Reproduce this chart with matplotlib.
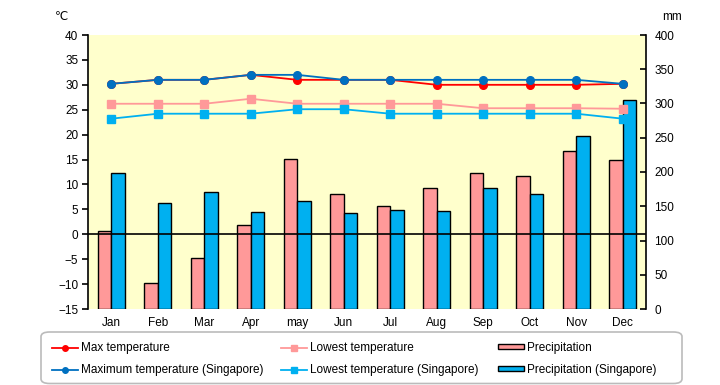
import matplotlib
matplotlib.use("Agg")
import matplotlib.pyplot as plt
import numpy as np
from matplotlib.lines import Line2D
from matplotlib.patches import FancyBboxPatch, Rectangle

months = ["Jan", "Feb", "Mar", "Apr", "may", "Jun", "Jul", "Aug", "Sep", "Oct", "Nov", "Dec"]
max_temp = [30.2, 31, 31, 32, 31, 31, 31, 30, 30, 30, 30, 30.2]
low_temp = [26.2, 26.2, 26.2, 27.2, 26.2, 26.2, 26.2, 26.2, 25.3, 25.3, 25.3, 25.2]
precip = [114, 38, 74, 122, 219, 168, 150, 176, 198, 194, 230, 217]
max_temp_sg = [30.2, 31, 31, 32, 32, 31, 31, 31, 31, 31, 31, 30.2]
low_temp_sg = [23.2, 24.2, 24.2, 24.2, 25.1, 25.1, 24.2, 24.2, 24.2, 24.2, 24.2, 23.2]
precip_sg = [198, 155, 171, 141, 157, 140, 144, 143, 176, 168, 252, 305]

labels = ["Max temperature", "Lowest temperature", "Precipitation",
          "Maximum temperature (Singapore)", "Lowest temperature (Singapore)",
          "Precipitation (Singapore)"]

RED = "#FF0000"
DBLUE = "#0070C0"
PINK = "#FF9999"
LBLUE = "#00B0F0"
BG = "#FFFFCC"

plt.rcParams['font.family'] = ['Liberation Sans', 'DejaVu Sans']
FS = 8.5
fig = plt.figure(figsize=(7.2, 3.85), dpi=100)
ax = fig.add_axes([88/720, 1-309/385, (646-88)/720, (309-35)/385])
ax2 = ax.twinx()

x = np.arange(len(months))
bw = 0.29
ax2.bar(x - bw/2, precip, bw, color=PINK, edgecolor="black", linewidth=1, zorder=2)
ax2.bar(x + bw/2, precip_sg, bw, color=LBLUE, edgecolor="black", linewidth=1, zorder=2)
ax2.set_ylim(0, 400)
ax2.set_yticks(range(0, 401, 50))

ax.set_zorder(ax2.get_zorder() + 1)
ax.patch.set_visible(False)
ax2.patch.set_visible(True)
ax2.patch.set_facecolor(BG)

ax.axhline(0, color="black", lw=1.2, zorder=1)
ax.plot(x, max_temp, color=RED, lw=1.3, marker="o", ms=5.5, zorder=3)
ax.plot(x, max_temp_sg, color=DBLUE, lw=1.3, marker="o", ms=5.5, zorder=4)
ax.plot(x, low_temp, color=PINK, lw=1.3, marker="s", ms=6, zorder=3)
ax.plot(x, low_temp_sg, color=LBLUE, lw=1.3, marker="s", ms=6, zorder=3)

ax.set_ylim(-15, 40)
ax.set_yticks(range(-15, 41, 5))
ax.set_yticklabels([str(v).replace("-", "\u2212") for v in range(-15, 41, 5)])
ax.set_xlim(-0.5, 11.5)
ax.set_xticks(x)
ax.set_xticklabels(months)

for a in (ax, ax2):
    a.spines['top'].set_visible(False)
    a.spines['bottom'].set_visible(False)
ax.spines['right'].set_visible(False)
ax2.spines['left'].set_visible(False)
ax.spines['left'].set_linewidth(1.2)
ax2.spines['right'].set_linewidth(1.2)
ax.tick_params(axis='y', direction='out', length=4, width=1.2, labelsize=FS, pad=3)
ax.tick_params(axis='x', length=0, labelsize=FS, pad=6)
ax2.tick_params(axis='y', direction='in', length=4, width=1.2, labelsize=FS, pad=6)

fig.text(62/720, 1-17/385, "\u2103", fontsize=FS, ha="center", va="center",
         family=['DejaVu Sans'])
fig.text(672/720, 1-17/385, "mm", fontsize=FS, ha="center", va="center")

# legend box
W, H = 720, 385
box = FancyBboxPatch((41/W, 1-383.5/H), (682-41)/W, (383.5-332)/H,
                     boxstyle="round,pad=0,rounding_size=0.012",
                     transform=fig.transFigure, facecolor="white",
                     edgecolor="#BBBBBB", lw=1.2, zorder=0)
fig.add_artist(box)

def line_handle(x0, y, color, marker, ms):
    fig.add_artist(Line2D([x0/W, (x0+26)/W], [1-y/H, 1-y/H], color=color, lw=1.3,
                          transform=fig.transFigure, zorder=5))
    fig.add_artist(Line2D([(x0+13)/W], [1-y/H], color=color, marker=marker, ms=ms,
                          lw=0, transform=fig.transFigure, zorder=6))

def bar_handle(x0, y, color):
    fig.add_artist(Rectangle((x0/W, (1-(y+2.5)/H)), 26/W, 5/H, facecolor=color,
                             edgecolor="black", lw=1, transform=fig.transFigure, zorder=5))

rows = [348, 370]
line_handle(52, rows[0], RED, "o", 4)
line_handle(52, rows[1], DBLUE, "o", 4)
line_handle(281, rows[0], PINK, "s", 4.5)
line_handle(281, rows[1], LBLUE, "s", 4.5)
bar_handle(498, rows[0] - 2, PINK)
bar_handle(498, rows[1] - 2, LBLUE)
tx = [81, 310, 527]
for i, lab in enumerate(labels):
    col = i % 3
    row = i // 3
    fig.text(tx[col]/W, 1-rows[row]/H, lab, fontsize=FS, ha="left", va="center", zorder=6)

fig.savefig("out.png", dpi=100)
